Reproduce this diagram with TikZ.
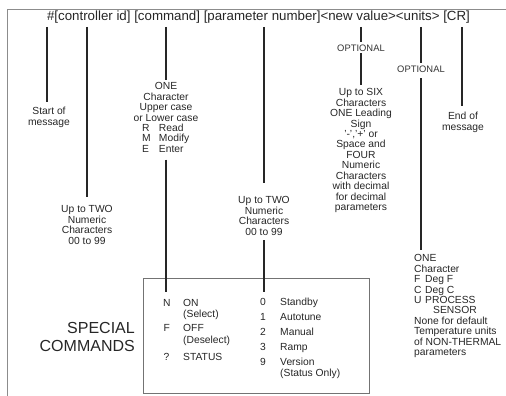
\documentclass[tikz,border=0pt]{standalone}
\usepackage{fontspec}
\setmainfont{Liberation Sans}
\begin{document}
\begin{tikzpicture}[x=1pt,y=1pt,
  txt/.style={font=\fontsize{10.3}{10.45}\selectfont, inner sep=0pt, text=black!85},
  ctr/.style={txt, align=center, anchor=north},
  lft/.style={txt, align=left, anchor=north west},
  bw/.style={txt, anchor=base west},
  opt/.style={font=\fontsize{9.4}{10}\selectfont, inner sep=0pt, text=black!80},
  ln/.style={line width=1.3pt, black!85},
  frame/.style={line width=0.9pt, black!45},
  boxst/.style={draw=black!55, line width=0.8pt, inner sep=0pt}
]
\useasboundingbox (0,0) rectangle (506,-396);
% frame
\draw[frame] (7,-396) -- (7,-9) -- (506,-9);
% header
\node[inner sep=0pt, font=\fontsize{13.3}{15}\selectfont, text=black!85] (hdr) at (258.5,-17.5)
  {\#[controller id] [command] [parameter number]<new value><units> [CR]};
\coordinate (t1) at (47,-27);
\coordinate (t2) at (87,-27);
\coordinate (t3) at (166,-27);
\coordinate (t4) at (264,-27);
\coordinate (t5) at (361,-27);
\coordinate (t6) at (421,-27);
\coordinate (t7) at (462,-27);

% start of message
\node[ctr] (som) at (49,-107.3) {Start of\\message};
\draw[ln, shorten >=5pt] (t1) -- (t1 |- som.north);

% controller id
\node[ctr] (ut1) at (87,-205.3) {Up to TWO\\Numeric\\Characters\\00 to 99};
\draw[ln, shorten >=8pt] (t2) -- (t2 |- ut1.north);

% command
\node[ctr] (oc) at (166,-82.3) {ONE\\Character\\Upper case\\or Lower case\\
  \makebox[48pt][l]{\makebox[17pt][l]{R}Read}\\
  \makebox[48pt][l]{\makebox[17pt][l]{M}Modify}\\
  \makebox[48pt][l]{\makebox[17pt][l]{E}Enter}};
\draw[ln, shorten >=2.5pt] (t3) -- (t3 |- oc.north);

% parameter number
\node[ctr] (ut2) at (264,-196.3) {Up to TWO\\Numeric\\Characters\\00 to 99};
\draw[ln, shorten >=13pt] (t4) -- (t4 |- ut2.north);

% new value
\node[opt] (o1) at (361,-48) {OPTIONAL};
\draw[ln, shorten >=2.5pt] (t5) -- (o1.north);
\node[ctr] (six) at (361,-88.3) {Up to SIX\\Characters\\ONE Leading\\Sign\\'-','+' or\\Space and\\FOUR\\Numeric\\Characters\\with decimal\\for decimal\\parameters};
\draw[ln, shorten <=1.5pt, shorten >=3pt] (o1.south) -- (six.north);

% units
\node[opt] (o2) at (421,-69) {OPTIONAL};
\draw[ln, shorten >=2.5pt] (t6) -- (o2.north);
\node[lft] (unit) at (414,-254.3) {ONE\\Character\\
  \makebox[11pt][l]{F}Deg F\\
  \makebox[11pt][l]{C}Deg C\\
  \makebox[11pt][l]{U}PROCESS\\
  \hspace*{19pt}SENSOR\\
  None for default\\Temperature units\\of NON-THERMAL\\parameters};
\draw[ln, shorten <=5.5pt, shorten >=4pt] (o2.south) -- (o2.south |- unit.north);

% CR
\node[ctr] (eom) at (463,-112.3) {End of\\message};
\draw[ln, shorten >=6pt] (t7) -- (t7 |- eom.north);

% special commands box
\node[boxst, minimum width=226pt, minimum height=115pt] (box) at (256,-335.5) {};
\node[font=\fontsize{16}{18}\selectfont, inner sep=0pt, align=right, anchor=north east, text=black!85] (spc) at (135,-322.2) {SPECIAL\\COMMANDS};

\node[bw] (n1) at (163,-306.7) {N};
\node[bw] (l1) at (183,-306.7) {ON};
\node[bw] (l1b) at (183,-317.8) {(Select)};
\node[bw] (n2) at (163.5,-331.7) {F};
\node[bw] (l2) at (183,-331.7) {OFF};
\node[bw] (l2b) at (183,-343) {(Deselect)};
\node[bw] (n3) at (163.5,-360.7) {?};
\node[bw] (l3) at (183,-360.7) {STATUS};

\node[bw] (d0) at (260,-305.7) {0};
\node[bw] (r0) at (280,-305.7) {Standby};
\node[bw] (d1) at (260,-320.7) {1};
\node[bw] (r1) at (280,-320.7) {Autotune};
\node[bw] (d2) at (260,-335.7) {2};
\node[bw] (r2) at (280,-335.7) {Manual};
\node[bw] (d3) at (260,-350.7) {3};
\node[bw] (r3) at (280,-350.7) {Ramp};
\node[bw] (d9) at (260,-365.7) {9};
\node[bw] (r9) at (280,-365.7) {Version};
\node[bw] (r9b) at (280,-376) {(Status Only)};

\draw[ln, shorten <=7pt, shorten >=7pt] (oc.south) -- (oc.south |- n1.north);
\draw[ln, shorten <=5pt, shorten >=6pt] (ut2.south) -- (ut2.south |- d0.north);
\end{tikzpicture}
\end{document}
